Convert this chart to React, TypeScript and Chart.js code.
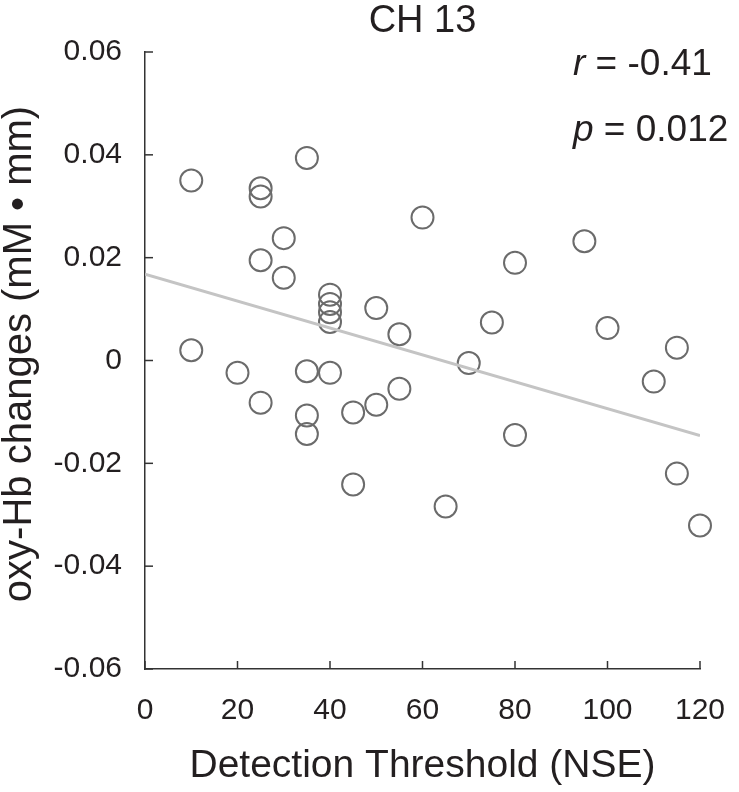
import React, { useEffect, useRef } from "react";
import { Chart, registerables } from "chart.js";

Chart.register(...registerables);

// detection threshold (NSE) per participant
const thresholds = [
    10, 10, 20, 25, 25, 25, 25, 30, 30, 35, 35, 35, 35, 40, 40, 40, 40, 40,
    45, 45, 50, 50, 55, 55, 60, 65, 70, 75, 80, 80, 95, 100, 110, 115, 115, 120,
];
// oxy-Hb changes (mM·mm)
const oxyHb = [
    0.035, 0.002, -0.0024, 0.0335, 0.0319, 0.0195, -0.0082, 0.0238, 0.0161,
    0.0394, -0.0021, -0.0107, -0.0143, 0.0128, 0.011, 0.0094, 0.0075, -0.0024,
    -0.0101, -0.0241, 0.0102, -0.0086, 0.0051, -0.0055, 0.0278, -0.0284,
    -0.0005, 0.0074, 0.019, -0.0145, 0.0232, 0.0063, -0.0041, 0.0025, -0.022,
    -0.0321,
];
// fitted regression line end points
const fitX = [0, 120];
const fitY = [0.0168, -0.0146];

const xTicks = [0, 20, 40, 60, 80, 100, 120];
const yTicks = [-0.06, -0.04, -0.02, 0, 0.02, 0.04, 0.06];

const FONT = "'Liberation Sans', Arial, Helvetica, sans-serif";
const INK = "#231f20";

// ticks point into the plot, and the title / stats / y title are placed by hand
const decorPlugin = {
    id: "decor",
    afterDraw(chart: Chart) {
        const ctx = chart.ctx;
        const area = chart.chartArea;
        const xs = chart.scales.x;
        const ys = chart.scales.y;

        ctx.save();
        ctx.strokeStyle = "#333";
        ctx.lineWidth = 1.5;
        xs.ticks.forEach((_, i) => {
            const px = xs.getPixelForTick(i);
            ctx.beginPath();
            ctx.moveTo(px, area.bottom);
            ctx.lineTo(px, area.bottom - 8);
            ctx.stroke();
        });
        ys.ticks.forEach((_, i) => {
            const py = ys.getPixelForTick(i);
            ctx.beginPath();
            ctx.moveTo(area.left, py);
            ctx.lineTo(area.left + 8, py);
            ctx.stroke();
        });

        ctx.fillStyle = INK;
        ctx.textBaseline = "middle";
        ctx.textAlign = "center";
        ctx.font = `38px ${FONT}`;
        ctx.fillText("CH 13", (area.left + area.right) / 2, 22);

        // y axis title
        ctx.save();
        ctx.translate(20, 354);
        ctx.rotate(-Math.PI / 2);
        ctx.font = `40px ${FONT}`;
        ctx.fillText("oxy-Hb changes (mM \u2022 mm)", 0, 0);
        ctx.restore();

        ctx.textAlign = "left";
        const stat = (sym: string, rest: string, y: number) => {
            ctx.font = `italic 37px ${FONT}`;
            ctx.fillText(sym, 573, y);
            const w = ctx.measureText(sym).width;
            ctx.font = `37px ${FONT}`;
            ctx.fillText(rest, 573 + w, y);
        };
        stat("r", " = -0.41", 65);
        stat("p", " = 0.012", 131);
        ctx.restore();
    },
};

export default function App() {
    const canvasRef = useRef<HTMLCanvasElement | null>(null);
    const chartRef = useRef<Chart | null>(null);

    useEffect(() => {
        if (!canvasRef.current) return;
        const ctx = canvasRef.current.getContext("2d");
        if (!ctx) return;

        if (chartRef.current) {
            chartRef.current.destroy();
        }

        chartRef.current = new Chart(ctx, {
            type: "scatter",
            data: {
                datasets: [
                    {
                        label: "fit",
                        type: "line",
                        data: fitX.map((x, i) => ({ x, y: fitY[i] })),
                        borderColor: "#c4c4c4",
                        borderWidth: 3,
                        pointRadius: 0,
                        fill: false,
                    },
                    {
                        label: "CH 13",
                        data: thresholds.map((x, i) => ({ x, y: oxyHb[i] })),
                        pointRadius: 11,
                        pointBorderWidth: 2,
                        borderColor: "#6b6b6b",
                        backgroundColor: "rgba(0,0,0,0)",
                        clip: false,
                    },
                ],
            },
            options: {
                animation: false,
                responsive: true,
                maintainAspectRatio: false,
                layout: {
                    padding: { top: 52, right: 39, left: 0, bottom: 0 },
                },
                plugins: {
                    legend: { display: false },
                    tooltip: { enabled: false },
                    title: { display: false },
                },
                scales: {
                    x: {
                        type: "linear",
                        min: 0,
                        max: 120,
                        afterBuildTicks: (s) => {
                            s.ticks = xTicks.map((v) => ({ value: v }));
                        },
                        afterFit: (s) => {
                            s.height = 792 - 669;
                            s.paddingLeft = 0;
                            s.paddingRight = 0;
                        },
                        grid: { display: false, drawTicks: false },
                        border: { display: true, color: "#333", width: 1.5 },
                        ticks: {
                            padding: 27,
                            color: INK,
                            font: { family: FONT, size: 30, lineHeight: 1 },
                        },
                        title: {
                            display: true,
                            text: "Detection Threshold (NSE)",
                            color: INK,
                            font: { family: FONT, size: 39, lineHeight: 1 },
                            padding: { top: 0, bottom: 6 },
                        },
                    },
                    y: {
                        type: "linear",
                        min: -0.06,
                        max: 0.06,
                        afterBuildTicks: (s) => {
                            s.ticks = yTicks.map((v) => ({ value: v }));
                        },
                        afterFit: (s) => {
                            s.width = 145;
                            s.paddingTop = 0;
                            s.paddingBottom = 0;
                        },
                        grid: { display: false, drawTicks: false },
                        border: { display: true, color: "#333", width: 1.5 },
                        ticks: {
                            padding: 23,
                            color: INK,
                            font: { family: FONT, size: 30, lineHeight: 1 },
                            callback: (v) => {
                                const n = Number(v);
                                if (Math.abs(n) < 1e-9) return "0";
                                return n.toFixed(2);
                            },
                        },
                        title: { display: false },
                    },
                },
            },
            plugins: [decorPlugin],
        });

        return () => {
            chartRef.current?.destroy();
            chartRef.current = null;
        };
    }, []);

    return (
        <div
            style={{
                position: "absolute",
                left: 0,
                top: 0,
                width: 739,
                height: 792,
                background: "#fff",
            }}
        >
            <canvas ref={canvasRef}></canvas>
        </div>
    );
}
